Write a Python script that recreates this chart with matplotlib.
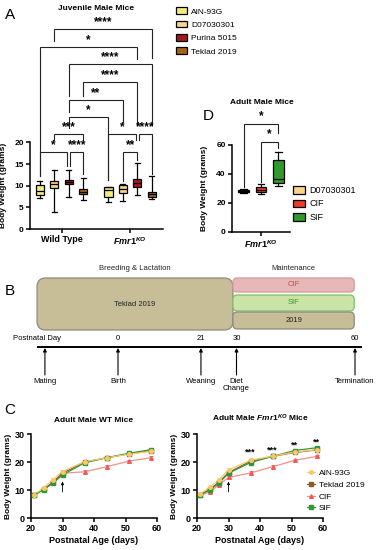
import matplotlib
matplotlib.use('Agg')
import matplotlib.pyplot as plt
from matplotlib.patches import FancyBboxPatch
from matplotlib.lines import Line2D

plt.rcParams['font.family'] = ['Liberation Sans', 'DejaVu Sans']
plt.rcParams['mathtext.fontset'] = 'custom'
plt.rcParams['mathtext.it'] = 'Liberation Sans:italic:bold'
plt.rcParams['mathtext.rm'] = 'Liberation Sans:bold'
plt.rcParams['mathtext.bf'] = 'Liberation Sans:bold'

# ---------------- data ----------------
# Panel A (juvenile male mice, box plots)
diets_A = ['AIN-93G', 'D07030301', 'Purina 5015', 'Teklad 2019']
colors_A = ['#F3EC7C', '#F8D489', '#A41A1A', '#A5631C']
groups_A = ['Wild Type', r'$\it{Fmr1}^{\it{KO}}$']
A_lo = [7.1, 4.0, 7.5, 6.7, 6.3, 6.5, 7.85, 6.9]
A_q1 = [7.9, 9.4, 10.3, 8.0, 7.3, 8.2, 9.8, 7.5]
A_med = [8.8, 10.4, 10.85, 8.6, 9.0, 9.2, 10.7, 8.0]
A_q3 = [10.1, 11.2, 11.3, 9.2, 9.8, 10.2, 11.5, 8.5]
A_hi = [11.1, 13.7, 13.6, 11.7, 9.8, 10.5, 15.2, 12.2]
# significance brackets: (box i, box j), level, label, left leg end, right leg end
A_pairs = [(1, 7), (0, 6), (2, 7), (3, 6), (2, 5), (2, 4), (1, 3), (4, 6), (6, 7), (0, 2), (2, 3), (5, 6)]
A_levels = [46.2, 42.0, 38.1, 33.9, 29.8, 25.9, 21.9, 21.9, 21.9, 17.8, 17.8, 17.8]
A_labels = ['****', '*', '****', '****', '**', '*', '***', '*', '****', '*', '****', '**']
A_leg_l = [43.4, 12.3, 30.7, 30.7, 27.0, 23.3, 20.5, 11.3, 20.5, 12.3, 14.5, 11.2]
A_leg_r = [39.5, 39.2, 24.0, 24.0, 24.7, 11.3, 20.5, 20.5, 12.8, 14.5, 12.8, 16.0]

# Panel D (adult male Fmr1KO mice)
diets_D = ['D07030301', 'CIF', 'SIF']
colors_D = ['#F8D489', '#EE3B26', '#2E9B2B']
D_lo = [27.0, 26.0, 31.7]
D_q1 = [27.4, 27.8, 34.0]
D_med = [28.4, 29.2, 36.5]
D_q3 = [29.2, 31.3, 49.5]
D_hi = [29.4, 33.0, 55.0]
D_pairs = [(0, 2), (1, 2)]
D_levels = [74.5, 62.3]
D_labels = ['*', '*']
D_leg_l = [31.0, 34.5]
D_leg_r = [68.0, 57.5]

# Panel B (timeline)
event_days = [-18.5, 0, 21, 30, 60]
event_labels = ['Mating', 'Birth', 'Weaning', 'Diet\nChange', 'Termination']
tick_days = [0, 21, 30, 60]
maint_diets = ['CIF', 'SIF', '2019']
maint_fill = ['#E8B7B7', '#C9E3A8', '#C7BD97']
maint_edge = ['#D49A9A', '#7CC65E', '#8E8A80']
maint_text = ['#C0504D', '#3C9A2A', '#222222']

# Panel C (growth curves)
days = [21, 24, 27, 30, 37, 44, 51, 58]
series_C = ['AIN-93G', 'Teklad 2019', 'CIF', 'SIF']
colors_C = ['#F9C868', '#8E5A26', '#F05A5A', '#2F9A33']
markers_C = ['o', 's', '^', 's']
wt = {
    'AIN-93G':     [8.3, 10.8, 13.7, 16.6, 20.1, 21.5, 22.8, 23.8],
    'Teklad 2019': [8.2, 10.2, 12.8, 16.0, 20.0, 21.5, 22.9, 24.0],
    'CIF':         [8.3, 10.2, 12.7, 16.0, 16.5, 18.3, 20.3, 21.5],
    'SIF':         [8.2, 10.1, 12.5, 15.4, 19.7, 21.5, 23.1, 24.4],
}
ko = {
    'AIN-93G':     [8.6, 10.9, 13.7, 17.2, 20.6, 22.1, 23.5, 24.4],
    'Teklad 2019': [8.3, 10.2, 12.8, 16.2, 20.3, 22.0, 23.4, 24.3],
    'CIF':         [8.2, 9.3, 11.9, 14.5, 16.1, 18.3, 20.6, 22.0],
    'SIF':         [8.3, 10.0, 12.5, 16.0, 19.8, 22.0, 24.1, 25.1],
}
err_C = [0.3, 0.4, 0.5, 0.6, 0.6, 0.6, 0.5, 0.5]
star_days = [37, 44, 51, 58]
star_labels = ['***', '***', '**', '**']
star_y = [22.6, 23.2, 25.0, 26.4]

# ---------------- figure ----------------
W, H = 377, 550
fig = plt.figure(figsize=(W / 100, H / 100), dpi=100)


def rect(x0, y0, x1, y1):
    return [x0 / W, 1 - y1 / H, (x1 - x0) / W, (y1 - y0) / H]


def style_axes(ax, lw=1.1):
    for s in ['top', 'right']:
        ax.spines[s].set_visible(False)
    for s in ['left', 'bottom']:
        ax.spines[s].set_linewidth(lw)
    ax.tick_params(width=lw, length=3, labelsize=6, pad=1.5)
    for lab in ax.get_xticklabels() + ax.get_yticklabels():
        lab.set_fontweight('bold')


def draw_boxes(ax, pos, lo, q1, med, q3, hi, colors, width):
    stats = [dict(whislo=a, q1=b, med=c, q3=d, whishi=e, fliers=[])
             for a, b, c, d, e in zip(lo, q1, med, q3, hi)]
    bp = ax.bxp(stats, positions=pos, widths=width, patch_artist=True,
                showfliers=False, manage_ticks=False,
                boxprops=dict(linewidth=0.9, edgecolor='black'),
                medianprops=dict(color='black', linewidth=0.9),
                whiskerprops=dict(linewidth=0.9),
                capprops=dict(linewidth=0.9), capwidths=width * 0.6)
    for p, c in zip(bp['boxes'], colors):
        p.set_facecolor(c)


def draw_brackets(ax, pos, pairs, levels, labels, legl, legr, fs, off, nudges=None):
    for k, ((i, j), y, lab, yl, yr) in enumerate(zip(pairs, levels, labels, legl, legr)):
        xl, xr = pos[i], pos[j]
        if nudges is not None:
            xl += nudges[k][0]
            xr += nudges[k][1]
        ax.plot([xl, xl, xr, xr], [yl, y, y, yr], color='#222222', lw=0.8,
                solid_joinstyle='miter', clip_on=False)
        ax.text((xl + xr) / 2, y + off, lab, ha='center', va='baseline',
                fontsize=fs, fontweight='bold')


# ---------- Panel A ----------
axA = fig.add_axes(rect(30, 19, 163, 229))
sp = 0.21
posA = [g + (k - 1.5) * sp for g in range(2) for k in range(4)]
colsA8 = colors_A * 2
draw_boxes(axA, posA, A_lo, A_q1, A_med, A_q3, A_hi, colsA8, 0.12)
nudA = [(0, 0)] * 12
nudA[9] = (0, -0.025)
nudA[10] = (0.025, 0)
nudA[7] = (0, -0.02)
nudA[8] = (0.02, 0)
draw_brackets(axA, posA, A_pairs, A_levels, A_labels, A_leg_l, A_leg_r, 8.5, 0.95, nudA)
axA.set_xlim(-0.46, 1.48)
axA.set_ylim(0, 48.5)
axA.set_yticks([0, 5, 10, 15, 20])
axA.spines['left'].set_bounds(0, 20)
axA.set_xticks([0, 1])
axA.set_xticklabels(groups_A)
style_axes(axA)
for lab in axA.get_xticklabels():
    lab.set_fontsize(6.5)
axA.set_ylabel('Body Weight (grams)', fontsize=6, fontweight='bold', labelpad=2)
axA.yaxis.set_label_coords(-0.17, 20 / 2 / 48.5)
fig.text(96 / W, 1 - 8 / H, 'Juvenile Male Mice', ha='center', va='center',
         fontsize=6, fontweight='bold')
# legend A
handlesA = [plt.Rectangle((0, 0), 1, 1, facecolor=c, edgecolor='black', lw=0.9) for c in colors_A]
fig.legend(handlesA, diets_A, loc='upper left', bbox_to_anchor=(172 / W, 1 - 3 / H),
           frameon=False, fontsize=6, handlelength=1.3, handleheight=0.9,
           handletextpad=0.5, labelspacing=0.6, borderpad=0)

# ---------- Panel D ----------
axD = fig.add_axes(rect(232, 110, 290, 232))
posD = [-1, 0, 1]
draw_boxes(axD, posD, D_lo, D_q1, D_med, D_q3, D_hi, colors_D, 0.6)
draw_brackets(axD, posD, D_pairs, D_levels, D_labels, D_leg_l, D_leg_r, 8.5, 2.9)
axD.set_xlim(-1.66, 1.66)
axD.set_ylim(0, 84)
axD.set_yticks([0, 20, 40, 60])
axD.spines['left'].set_bounds(0, 60)
axD.set_xticks([0])
axD.set_xticklabels([groups_A[1]])
style_axes(axD)
for lab in axD.get_xticklabels():
    lab.set_fontsize(6.5)
axD.set_ylabel('Body Weight (grams)', fontsize=6, fontweight='bold', labelpad=2)
axD.yaxis.set_label_coords(-0.42, 30 / 84)
fig.text(262 / W, 1 - 103 / H, 'Adult Male Mice', ha='center', va='center',
         fontsize=6, fontweight='bold')
handlesD = [plt.Rectangle((0, 0), 1, 1, facecolor=c, edgecolor='black', lw=0.9) for c in colors_D]
axD.legend(handlesD, diets_D, loc='center left', bbox_to_anchor=(0.98, 0.23),
           frameon=False, fontsize=6.5, handlelength=1.3, handleheight=0.9,
           handletextpad=0.5, labelspacing=0.5, borderpad=0)

# ---------- Panel B ----------
axB = fig.add_axes(rect(0, 255, 377, 400))
k_px = 3.95
axB.set_xlim(-118 / k_px, (377 - 118) / k_px)
axB.set_ylim(400, 255)
axB.axis('off')
big_l, big_r = event_days[0] - 2.0, event_days[3] - 0.9
axB.add_patch(FancyBboxPatch((big_l, 278), big_r - big_l, 52,
                             boxstyle='round,pad=0,rounding_size=2.2', mutation_aspect=k_px,
                             facecolor='#C7BD97', edgecolor='#8E8A80', lw=0.9))
axB.text((big_l + big_r) / 2, 304, 'Teklad 2019', ha='center', va='center', fontsize=5.5,
         color='#222222')
axB.text((big_l + big_r) / 2, 268, 'Breeding & Lactation', ha='center', va='center',
         fontsize=5.5, color='#222222')
m_l, m_r = event_days[3] - 0.9, event_days[4] - 0.2
rows = [(278, 14), (295, 16), (312, 17)]
for (y0, h), name, fc, ec, tc in zip(rows, maint_diets, maint_fill, maint_edge, maint_text):
    axB.add_patch(FancyBboxPatch((m_l, y0), m_r - m_l, h,
                                 boxstyle='round,pad=0,rounding_size=1.1', mutation_aspect=k_px,
                                 facecolor=fc, edgecolor=ec, lw=0.9))
    axB.text((m_l + m_r) / 2, y0 + h / 2, name, ha='center', va='center', fontsize=5.5, color=tc)
axB.text((m_l + m_r) / 2, 268, 'Maintenance', ha='center', va='center', fontsize=5.5,
         color='#222222')
axB.text(big_l, 338, 'Postnatal Day', ha='center', va='center', fontsize=5.5)
for d in tick_days:
    axB.text(d, 338, str(d), ha='center', va='center', fontsize=5.5)
axB.plot([big_l, event_days[4] + 1.8], [347, 347], color='black', lw=1.4,
         solid_capstyle='butt')
for d, lab in zip(event_days, event_labels):
    axB.annotate('', xy=(d, 348), xytext=(d, 375),
                 arrowprops=dict(arrowstyle='-|>', color='black', lw=0.8,
                                 mutation_scale=5, shrinkA=0, shrinkB=0))
    axB.text(d, 378, lab, ha='center', va='top', fontsize=5.5, linespacing=1.1)

# ---------- Panel C ----------
def growth(ax, data, title, legend=False):
    order = ['CIF', 'Teklad 2019', 'SIF', 'AIN-93G']
    handles = {}
    for name in order:
        i = series_C.index(name)
        c = colors_C[i]
        lc = '#F4908A' if name == 'CIF' else c
        ax.errorbar(days, data[name], yerr=err_C, color=lc, ecolor=c, lw=0.9,
                    elinewidth=0.6, capsize=1.5, capthick=0.6, zorder=2)
        ax.plot(days, data[name], ls='none', marker=markers_C[i], ms=2.6,
                mfc=c, mec=c, zorder=3)
        handles[name] = Line2D([], [], color=lc, lw=0.9, marker=markers_C[i], ms=2.6,
                               mfc=c, mec=c)
    ax.set_xlim(20, 60)
    ax.set_ylim(0, 30)
    ax.set_xticks([20, 30, 40, 50, 60])
    ax.set_yticks([0, 10, 20, 30])
    style_axes(ax)
    for lab in ax.get_xticklabels() + ax.get_yticklabels():
        lab.set_fontsize(6.5)
    ax.set_xlabel('Postnatal Age (days)', fontsize=6.5, fontweight='bold', labelpad=2)
    ax.set_ylabel('Body Weight (grams)', fontsize=6, fontweight='bold', labelpad=2)
    ax.set_title(title, fontsize=6, fontweight='bold', pad=9)
    ax.annotate('', xy=(30, 13.0), xytext=(30, 9.3),
                arrowprops=dict(arrowstyle='-|>', color='black', lw=0.6,
                                mutation_scale=4, shrinkA=0, shrinkB=0))
    if legend:
        ax.legend([handles[n] for n in series_C], series_C, loc='lower left',
                  bbox_to_anchor=(0.84, 0.02), frameon=False, fontsize=6,
                  handlelength=1.0, handletextpad=0.4, labelspacing=0.45, borderpad=0)


axC1 = fig.add_axes(rect(31, 434, 157, 518))
growth(axC1, wt, 'Adult Male WT Mice')
axC2 = fig.add_axes(rect(197, 434, 323, 518))
growth(axC2, ko, r'Adult Male $\it{Fmr1}^{\it{KO}}$ Mice', legend=True)
for d, lab, y in zip(star_days, star_labels, star_y):
    axC2.text(d, y, lab, ha='center', va='baseline', fontsize=6.5, fontweight='bold')

# panel letters
for lab, x, y in [('A', 10, 15), ('B', 10, 291), ('C', 10, 410), ('D', 208, 116)]:
    fig.text(x / W, 1 - y / H, lab, ha='center', va='center', fontsize=11)

fig.savefig('out.png', dpi=100)
